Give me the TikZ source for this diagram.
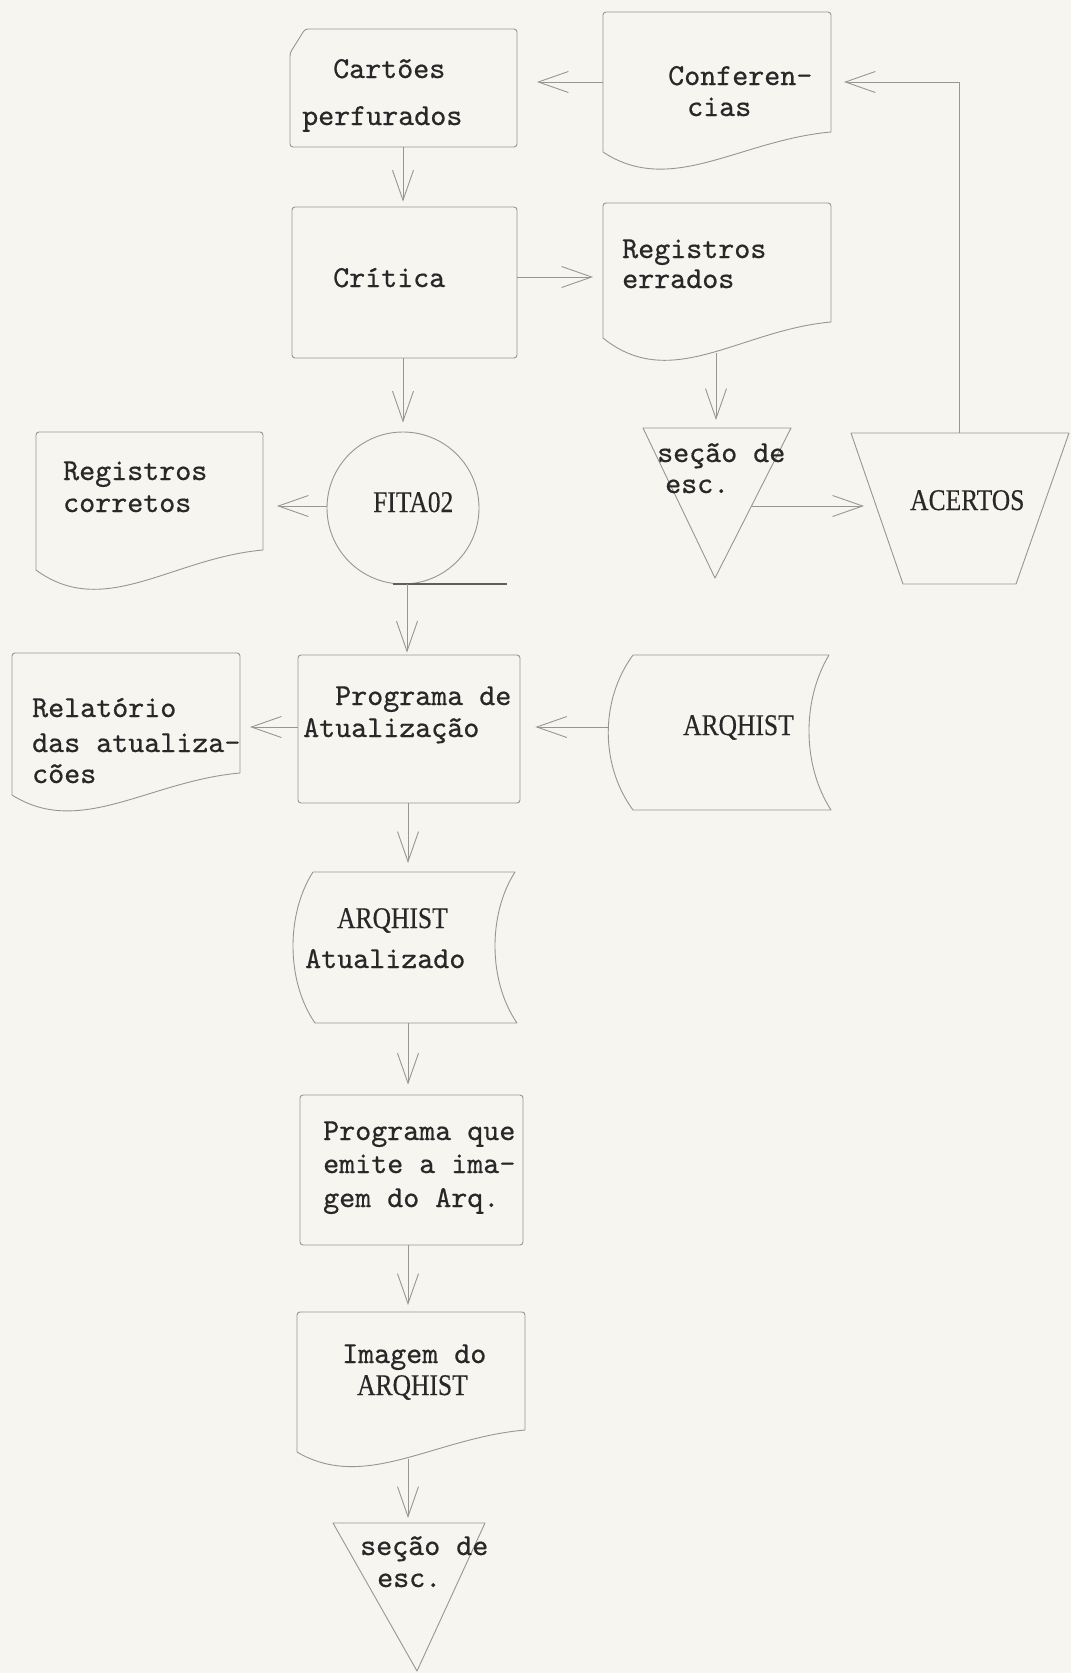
\documentclass[tikz,border=0pt]{standalone}
\usepackage{fontspec}
\usepackage{graphicx}
\usetikzlibrary{arrows.meta}
\newfontfamily\capsf{Liberation Serif}[FakeBold=0.4]
\newfontfamily\twf{lmmono10-regular.otf}[FakeBold=0.6]
\newcommand\mycaps[1]{\scalebox{0.85}[1]{\capsf #1}}
\definecolor{bgc}{RGB}{246,245,240}
\definecolor{linec}{RGB}{150,150,147}
\definecolor{tapec}{RGB}{95,95,92}
\definecolor{textc}{RGB}{40,40,40}
\tikzset{
  ln/.style={draw=linec, line width=0.9pt, line join=round},
  arr/.style={draw=linec, line width=0.9pt, -{Straight Barb[length=30pt,width=21pt,line width=0.9pt]}},
  txt/.style={text=textc, font=\twf\fontsize{30.5}{33}\selectfont, inner sep=0pt, anchor=base west},
  ctxt/.style={text=textc, font=\fontsize{30}{33}\selectfont, inner sep=0pt, anchor=base west},
  procbox/.style={ln, rounded corners=3pt, inner sep=0pt},
}
\begin{document}
\begin{tikzpicture}[x=1pt,y=-1pt]
\fill[bgc] (0,0) rectangle (1071,1673);
\useasboundingbox (0,0) rectangle (1071,1673);

% ---- shapes ----
% punched card
\draw[ln, rounded corners=3pt] (290,53) -- (305,29) -- (517,29) -- (517,147) -- (290,147) -- cycle;
\coordinate (cart-e) at (517,82);
\coordinate (cart-s) at (403,147);
% Conferencias (document)
\draw[ln, rounded corners=3pt] (831,132) -- (831,12) -- (603,12) -- (603,152);
\draw[ln] (603,152) .. controls (671,197) and (740,140) .. (831,132);
\coordinate (conf-w) at (603,82);
\coordinate (conf-e) at (831,82);
% Critica
\node[procbox, minimum width=225pt, minimum height=151pt] (crit) at (404.5,282.5) {};
% Registros errados
\draw[ln, rounded corners=3pt] (831,322) -- (831,203) -- (603,203) -- (603,338);
\draw[ln] (603,338) .. controls (671,393) and (740,330) .. (831,322);
\coordinate (regerr-w) at (603,277);
\coordinate (regerr-s) at (716,353);
% FITA02 (tape)
\node[ln, circle, minimum size=152pt, inner sep=0pt] (fita) at (403,508) {};
\draw[draw=tapec, line width=2pt] (fita.south) ++(-10,0) coordinate (tape-a) -- ++(114,0) coordinate (tape-b);
% secao de esc. 1
\draw[ln] (643,428) -- (791,428) -- (715,578) -- cycle;
\coordinate (sec1-n) at (716,428);
\coordinate (sec1-e) at (752,506);
% ACERTOS
\draw[ln] (851,433) -- (1069,433) -- (1016,584) -- (903,584) -- cycle;
\coordinate (acer-n) at (959,433);
\coordinate (acer-w) at (876,506);
% Registros corretos
\draw[ln, rounded corners=3pt] (263,550) -- (263,432) -- (36,432) -- (36,570);
\draw[ln] (36,570) .. controls (104,620) and (172,558) .. (263,550);
\coordinate (regcor-e) at (263,506);
% Programa de Atualizacao
\node[procbox, minimum width=222pt, minimum height=148pt] (prog) at (409,729) {};
% Relatorio
\draw[ln, rounded corners=3pt] (240,773) -- (240,653) -- (12,653) -- (12,795);
\draw[ln] (12,795) .. controls (80,838) and (149,781) .. (240,773);
\coordinate (relat-e) at (240,727);
% ARQHIST (stored data)
\draw[ln] (633,655) -- (829,655) .. controls (802,700) and (802,765) .. (831,810) -- (633,810) .. controls (600,765) and (600,700) .. (633,655);
\coordinate (arq-w) at (608,727);
% ARQHIST Atualizado
\draw[ln] (313,872) -- (515,872) .. controls (488,914) and (488,981) .. (517,1023) -- (315,1023) .. controls (286,981) and (286,914) .. (313,872);
\coordinate (arqatu-n) at (408,872);
\coordinate (arqatu-s) at (408,1023);
% Programa que emite
\node[procbox, minimum width=223pt, minimum height=150pt] (pe) at (411.5,1170) {};
% Imagem do ARQHIST
\draw[ln, rounded corners=3pt] (525,1430) -- (525,1312) -- (297,1312) -- (297,1452);
\draw[ln] (297,1452) .. controls (365,1492) and (434,1438) .. (525,1430);
\coordinate (img-n) at (408,1312);
\coordinate (img-s) at (408,1459);
% secao de esc. 2
\draw[ln] (333,1523) -- (485,1523) -- (417,1671) -- cycle;
\coordinate (sec2-n) at (408,1523);

% ---- connectors ----
\draw[arr, shorten >=20pt] (conf-w) -- (cart-e);
\draw[arr, shorten >=13pt] (acer-n) |- (conf-e);
\draw[arr, shorten >=5pt] (cart-s) -- (crit.north -| cart-s);
\draw[arr, shorten >=10pt] (crit.east |- regerr-w) -- (regerr-w);
\draw[arr, shorten >=8pt] (regerr-s) -- (sec1-n);
\draw[arr, shorten >=12pt] (sec1-e) -- (acer-w);
\draw[arr, shorten >=9pt] (crit.south -| fita.north) -- (fita.north);
\draw[arr, shorten >=14pt] (fita.west |- regcor-e) -- (regcor-e);
\draw[arr, shorten >=2pt] ([xshift=4pt]fita.south) -- ([xshift=4pt]fita.south |- prog.north);
\draw[arr, shorten >=10pt] (prog.west |- relat-e) -- (relat-e);
\draw[arr, shorten >=15pt] (arq-w) -- (prog.east |- arq-w);
\draw[arr, shorten >=9pt] (prog.south -| arqatu-n) -- (arqatu-n);
\draw[arr, shorten >=10pt] (arqatu-s) -- (pe.north -| arqatu-s);
\draw[arr, shorten >=7pt] (pe.south -| img-n) -- (img-n);
\draw[arr, shorten >=5pt] (img-s) -- (sec2-n);

% ---- texts ----
\node[txt] (cart-t1) at (333,78) {Cartões};
\node[txt] (cart-t2) at (302,125) {perfurados};
\node[txt] (conf-t1) at (668,85) {Conferen-};
\node[txt] (conf-t2) at (687,116) {cias};
\node[txt] (crit-t) at (333,287) {Crítica};
\node[txt] (regerr-t1) at (622,258) {Registros};
\node[txt] (regerr-t2) at (622,288) {errados};
\node[ctxt] (fita-t) at (373,512) {\mycaps{FITA02}};
\node[txt] (sec1-t1) at (657,462) {seção de};
\node[txt] (sec1-t2) at (665,493) {esc.};
\node[ctxt] (acer-t) at (910,510) {\mycaps{ACERTOS}};
\node[txt] (regcor-t1) at (63,480) {Registros};
\node[txt] (regcor-t2) at (63,512) {corretos};
\node[txt] (relat-t1) at (32,717) {Relatório};
\node[txt] (relat-t2) at (32,752) {das atualiza-};
\node[txt] (relat-t3) at (32,783) {cões};
\node[txt] (prog-t1) at (335,705) {Programa de};
\node[txt] (prog-t2) at (303,737) {Atualização};
\node[ctxt] (arq-t) at (683,735) {\mycaps{ARQHIST}};
\node[ctxt] (arqatu-t1) at (337,928) {\mycaps{ARQHIST}};
\node[txt] (arqatu-t2) at (305,968) {Atualizado};
\node[txt] (pe-t1) at (323,1140) {Programa que};
\node[txt] (pe-t2) at (323,1173) {emite a ima-};
\node[txt] (pe-t3) at (323,1207) {gem do Arq.};
\node[txt] (img-t1) at (342,1363) {Imagem do};
\node[ctxt] (img-t2) at (357,1395) {\mycaps{ARQHIST}};
\node[txt] (sec2-t1) at (360,1555) {seção de};
\node[txt] (sec2-t2) at (377,1587) {esc.};
\end{tikzpicture}
\end{document}
